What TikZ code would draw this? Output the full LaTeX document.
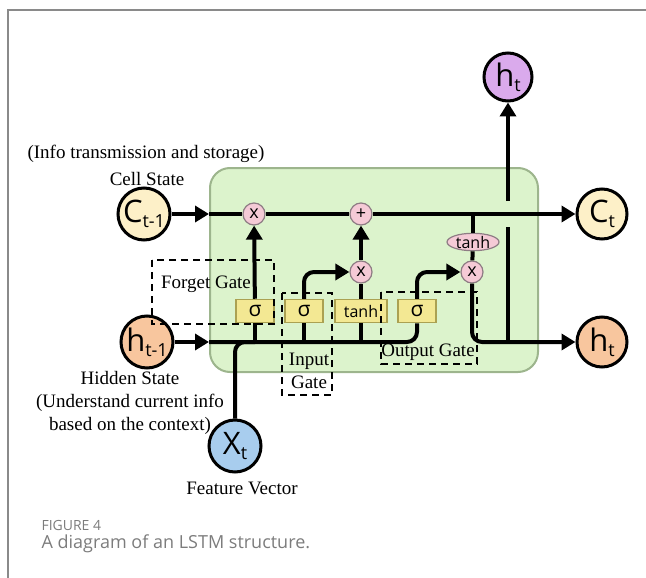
\documentclass[tikz,border=0pt]{standalone}
\usepackage{fontspec}
\setmainfont{Liberation Serif}
\newfontfamily\sansfont{Open Sans}
\usetikzlibrary{arrows.meta,positioning,calc,shapes.geometric}
\definecolor{cellgreen}{HTML}{DCF3CC}
\definecolor{celledge}{HTML}{9DB58D}
\definecolor{cstate}{HTML}{FDF0C8}
\definecolor{hstate}{HTML}{F8C69E}
\definecolor{hup}{HTML}{DAAAEC}
\definecolor{xin}{HTML}{A8CDEE}
\definecolor{pw}{HTML}{F5CAD6}
\definecolor{pwedge}{HTML}{8E7C84}
\definecolor{gate}{HTML}{F3E893}
\definecolor{gateedge}{HTML}{ABA152}
\definecolor{frame}{HTML}{8A8A8A}
\definecolor{captxt}{HTML}{7C7C7C}
\newcommand{\stlbl}[2]{#1\raisebox{-5pt}{\fontsize{18}{18}\selectfont #2}}

\begin{document}
\begin{tikzpicture}[x=1pt,y=-1pt,
  state/.style={circle,draw,line width=3pt,minimum size=52pt,inner sep=0pt,font=\sansfont\fontsize{31}{31}\selectfont},
  pwop/.style={circle,draw=pwedge,fill=pw,line width=1.2pt,minimum size=22pt,inner sep=0pt,font=\sansfont\fontsize{18}{18}\selectfont},
  gatebox/.style={rectangle,draw=gateedge,fill=gate,line width=1.5pt,minimum height=23pt,inner sep=0pt,font=\sansfont\fontsize{21}{21}\selectfont},
  line/.style={line width=4pt},
  arr/.style={line width=4pt,-{Triangle[length=14pt,width=16pt]}},
  dashbox/.style={dash pattern=on 7pt off 5pt,line width=1.2pt},
  lbl/.style={font=\fontsize{19}{23}\selectfont,align=center,inner sep=0pt}]
\useasboundingbox (0,0) rectangle (646,578);
\draw[frame,line width=2pt] (8,578) -- (8,10) -- (646,10);
\node[draw=celledge,fill=cellgreen,line width=2pt,rounded corners=20pt,minimum width=328pt,minimum height=204pt] (cell) at (374,270) {};
% states
\node[state,fill=cstate] (ctin) at (144,214) {\stlbl{C}{t-1}};
\node[state,fill=hstate] (hin) at (147,342) {\stlbl{h}{t-1}};
\node[state,fill=cstate,minimum size=50pt] (ctout) at (602,214) {\stlbl{C}{t}};
\node[state,fill=hstate,minimum size=50pt] (hout) at (602,342) {\stlbl{h}{t}};
\node[state,fill=hup,minimum size=48pt] (htop) at (508,77) {\stlbl{h}{t}};
\node[state,fill=xin] (xt) at (235,446) {\stlbl{X}{t}};
% pointwise ops and gates
\node[pwop] (fx) at (254,214) {x};
\node[pwop] (plus) at (361,214) {+};
\node[pwop] (ix) at (361,272) {x};
\node[pwop] (ox) at (472,272) {x};
\node[ellipse,draw=pwedge,fill=pw,line width=1.2pt,minimum width=52pt,minimum height=16pt,inner sep=0pt,font=\sansfont\fontsize{16}{16}\selectfont] (ctanh) at (473,242) {tanh};
\node[gatebox,minimum width=38pt] (fsig) at (255,311) {σ};
\node[gatebox,minimum width=38pt] (isig) at (304,311) {σ};
\node[gatebox,minimum width=52pt,font=\sansfont\fontsize{16}{16}\selectfont] (ttanh) at (361,311) {tanh};
\node[gatebox,minimum width=38pt] (osig) at (417,311) {σ};
% cell state line
\draw[arr] (ctin) -- (ctin -| cell.west);
\draw[arr] (ctin -| cell.west) -- (fx) -- (plus) -- (ctout);
% hidden state line
\draw[arr] (hin) -- (hin -| cell.west);
\draw[line,rounded corners=10pt] (hin -| cell.west) -| (osig.south);
\draw[line,rounded corners=10pt] (xt) |- (fsig.south |- hin);
\foreach \g in {fsig,isig,ttanh} \draw[line] (\g.south |- hin) -- (\g.south);
% gates
\draw[arr] (fsig) -- (fx);
\draw[arr,rounded corners=10pt] (isig.north) |- (ix);
\draw[line] (ttanh) -- (ix);
\draw[arr] (ix) -- (plus);
\draw[arr,rounded corners=10pt] (osig.north) |- (ox);
\draw[line] (ctanh.north |- ctin) -- (ctanh);
\draw[line] (ctanh) -- (ox);
\draw[arr,rounded corners=10pt] (ox) |- (hout);
\draw[line] (htop |- hout) -- ($(htop |- ctin)+(0,13)$);
\draw[arr] ($(htop |- ctin)-(0,13)$) -- (htop);
% dashed gate frames
\draw[dashbox] (152,260) rectangle (274,324);
\draw[dashbox] (282,293) rectangle (332,395);
\draw[dashbox] (381,292) rectangle (477,364);
\node[lbl] (fglbl) at (206,284) {Forget Gate};
\node[lbl] (iglbl) at (309,371) {Input\\Gate};
\node[lbl] (oglbl) at (428,352) {Output Gate};
% texts
\node[lbl] (infolbl) at (146,154) {(Info transmission and storage)};
\node[lbl] (celllbl) at (147,179) {Cell State};
\node[lbl] (hidlbl) at (130,403) {Hidden State\\(Understand current info\\based on the context)};
\node[lbl] (featlbl) at (242,488) {Feature Vector};
\node[anchor=west,text=captxt,font=\sansfont\fontsize{14}{14}\selectfont] (fignum) at (38,525) {FIGURE 4};
\node[anchor=west,text=captxt,font=\sansfont\fontsize{18}{18}\selectfont] (figcap) at (38,544) {A diagram of an LSTM structure.};
\end{tikzpicture}
\end{document}
